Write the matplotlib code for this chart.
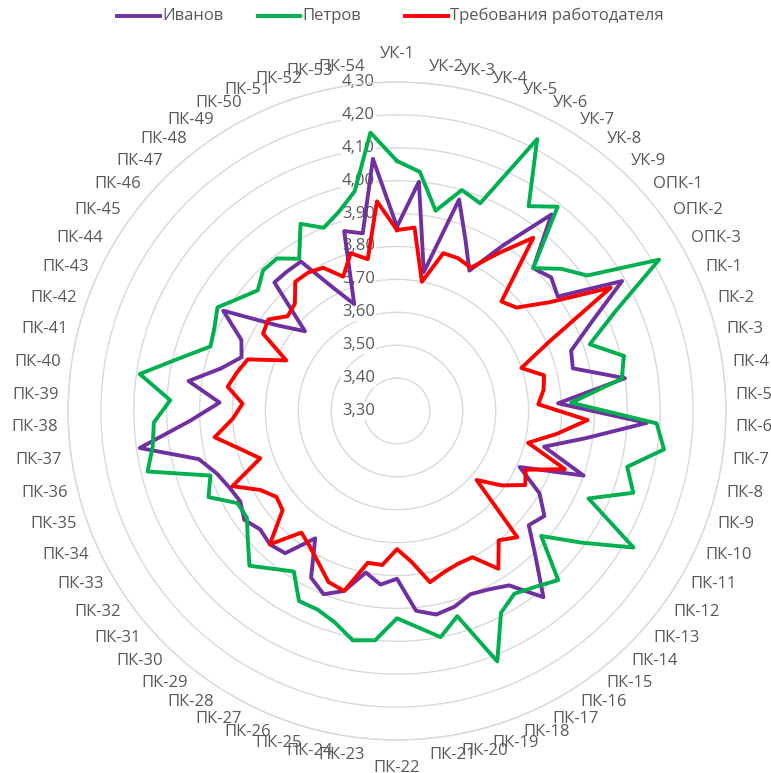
import numpy as np
import matplotlib
matplotlib.use("Agg")
import matplotlib.pyplot as plt
from matplotlib.transforms import offset_copy
from matplotlib.lines import Line2D

plt.rcParams['font.family'] = ['Open Sans', 'DejaVu Sans']

# Competency codes around the radar, clockwise from the top
competencies = ([f"УК-{k}" for k in range(1, 10)]
                + [f"ОПК-{k}" for k in range(1, 4)]
                + [f"ПК-{k}" for k in range(1, 55)])

ivanov = [3.86, 4.00, 3.73, 3.97, 3.86, 3.78, 3.90, 4.06, 3.90,
          3.92, 3.90, 4.09,
          3.95, 3.86, 3.85, 4.00, 3.79, 4.06, 3.88, 3.76, 3.90, 3.71,
          3.80, 3.85, 3.83, 3.91, 4.02, 3.93, 3.91, 3.90, 3.92, 3.93,
          3.91, 3.81, 3.83, 3.80, 3.87, 3.90, 3.87, 3.76, 3.85, 3.86,
          3.85, 3.87, 3.85, 3.86, 3.88, 3.92, 4.09, 3.93, 3.84, 3.94,
          3.85, 3.80, 3.82, 3.91, 3.75, 3.67, 3.84, 3.84, 3.84, 3.72,
          3.65, 3.87, 3.85, 4.07]

petrov = [4.06, 4.03, 3.92, 4.00, 3.98, 4.23, 4.04, 4.09, 3.90,
          3.96, 4.01, 4.22,
          4.03, 3.92, 4.01, 3.99, 3.83, 4.09, 4.12, 4.02, 4.06, 3.94,
          4.13, 3.99, 3.88, 4.01, 3.98, 3.96, 3.99, 4.12, 3.95, 4.00,
          3.96, 3.93, 4.00, 4.01, 3.97, 3.95, 3.95, 3.88, 3.91, 3.95,
          3.90, 3.86, 3.86, 3.93, 3.90, 4.08, 4.05, 4.04, 3.99, 4.09,
          3.98, 3.90, 3.91, 3.93, 3.89, 3.86, 3.89, 3.89, 3.85, 3.94,
          3.90, 3.93, 3.98, 4.15]

employer = [3.85, 3.86, 3.70, 3.80, 3.80, 3.79, 3.87, 3.97, 3.76,
            3.78, 3.87, 4.05,
            3.81, 3.70, 3.76, 3.75, 3.73, 3.88, 3.79, 3.71, 3.84, 3.73,
            3.75, 3.69, 3.62, 3.83, 3.80, 3.87, 3.80, 3.80, 3.81, 3.83,
            3.76, 3.72, 3.77, 3.77, 3.87, 3.86, 3.82, 3.79, 3.77, 3.86,
            3.76, 3.75, 3.78, 3.85, 3.74, 3.79, 3.86, 3.80, 3.77, 3.82,
            3.80, 3.78, 3.67, 3.77, 3.78, 3.74, 3.75, 3.80, 3.80, 3.79,
            3.74, 3.80, 3.77, 3.94]

series_names = ["Иванов", "Петров", "Требования работодателя"]
series_values = [ivanov, petrov, employer]
series_colors = ["#7030A0", "#00B050", "#FF0000"]

r_ticks = [3.30, 3.40, 3.50, 3.60, 3.70, 3.80, 3.90, 4.00, 4.10, 4.20, 4.30]
r_tick_labels = ["3,30", "3,40", "3,50", "3,60", "3,70", "3,80",
                 "3,90", "4,00", "4,10", "4,20", "4,30"]

TEXT = "#595959"
GRID = "#D9D9D9"
FS = 12

W, H = 771, 773
fig = plt.figure(figsize=(W / 100, H / 100), dpi=100)
cx, cy, R = 397, 411, 329
ax = fig.add_axes([(cx - R) / W, (H - cy - R) / H, 2 * R / W, 2 * R / H],
                  projection="polar")
ax.set_theta_zero_location("N")
ax.set_theta_direction(-1)
rmin, rmax = r_ticks[0], r_ticks[-1]
ax.set_ylim(rmin, rmax)
ax.set_axisbelow(True)
ax.set_xticks([])
ax.set_yticks(r_ticks[1:])
ax.set_yticklabels([])
ax.xaxis.grid(False)
ax.yaxis.grid(True, color=GRID, lw=1.0)
ax.spines["polar"].set_color(GRID)
ax.spines["polar"].set_linewidth(1.0)

n = len(competencies)
theta = np.arange(n) * 2 * np.pi / n

# value axis labels along the upward spoke
for v, lab in zip(r_ticks, r_tick_labels):
    ypx = cy - (v - rmin) / (rmax - rmin) * R
    ax.text(375 / W, 1 - ypx / H, lab, transform=fig.transFigure,
            ha="right", va="center", fontsize=FS, color=TEXT, zorder=1,
            bbox=dict(boxstyle="square,pad=0.05", fc="white", ec="none"))

# series
for vals, col, z in zip(series_values, series_colors, [3, 4, 5]):
    th = np.append(theta, theta[0])
    rv = np.append(vals, vals[0])
    ax.plot(th, rv, color=col, lw=2.8, solid_joinstyle="round", zorder=z,
            clip_on=False)

# category labels outside the outer ring
gap = 10 / R * (rmax - rmin)
for t, lab in zip(theta, competencies):
    s, c = np.sin(t), np.cos(t)
    if abs(s) < 0.01:
        ha = "center"
        r_lab = rmax + 28 / R * (rmax - rmin)
        dy = 0
    else:
        ha = "left" if s > 0 else "right"
        r_lab = rmax + gap
        dy = 7 * c
    tr = offset_copy(ax.transData, fig=fig, x=0, y=dy, units="dots")
    ax.text(t, r_lab, lab, transform=tr, ha=ha, va="center",
            fontsize=FS, color=TEXT, zorder=2)

# legend across the top
ly = 1 - 16 / H
legend_x = [(117, 160), (258, 300), (405, 448)]
for (x0, x1), name, col in zip(legend_x, series_names, series_colors):
    fig.add_artist(Line2D([x0 / W, x1 / W], [ly, ly], color=col, lw=2.8,
                          transform=fig.transFigure))
    fig.text((x1 + 2) / W, ly, name, ha="left", va="center",
             fontsize=FS, color=TEXT)

fig.savefig("out.png", dpi=100, facecolor="white")
